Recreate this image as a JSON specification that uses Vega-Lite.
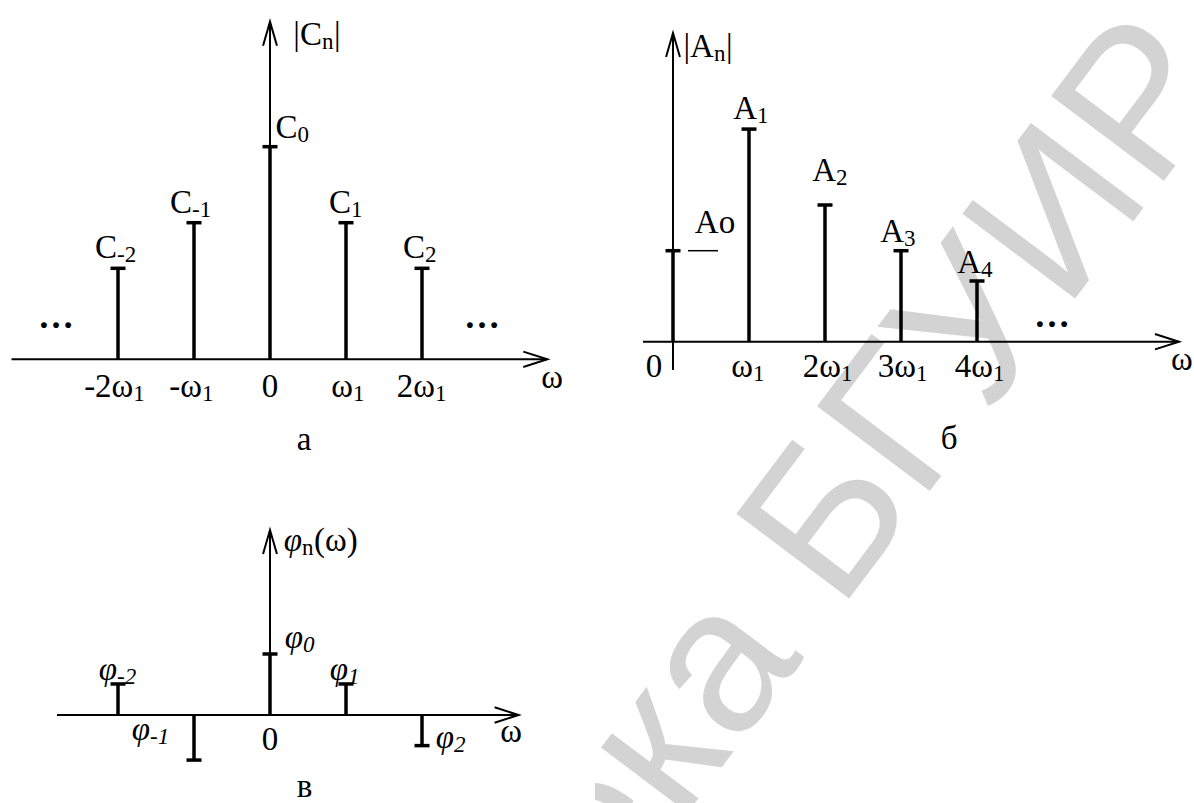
{
  "$schema": "https://vega.github.io/schema/vega-lite/v6.json",
  "padding": 0,
  "background": "white",
  "config": {"view": {"stroke": null}},
  "datasets": {
    "stems_a": [
      {"label": "C-2", "n": -2, "v": 0.428},
      {"label": "C-1", "n": -1, "v": 0.6425},
      {"label": "C0", "n": 0, "v": 1.0},
      {"label": "C1", "n": 1, "v": 0.6425},
      {"label": "C2", "n": 2, "v": 0.428}
    ],
    "axes_a": [
      {"dir": "x", "n": 3.649, "v": 0, "n2": -3.401, "v2": 0},
      {"dir": "y", "n": 0, "v": 1.588, "n2": 0, "v2": 0}
    ],
    "labels_a": [
      {"main": "|C", "sub": "n", "post": "|", "n": 0.684, "v": 1.478},
      {"main": "C", "sub": "0", "post": "", "n": 0.362, "v": 1.04},
      {"main": "C", "sub": "-1", "post": "", "n": -1.026, "v": 0.688},
      {"main": "C", "sub": "-2", "post": "", "n": -2.013, "v": 0.4765},
      {"main": "C", "sub": "1", "post": "", "n": 1.066, "v": 0.688},
      {"main": "C", "sub": "2", "post": "", "n": 2.039, "v": 0.4765},
      {"main": "-2ω", "sub": "1", "post": "", "n": -1.798, "v": -0.176},
      {"main": "-ω", "sub": "1", "post": "", "n": -0.895, "v": -0.176},
      {"main": "ω", "sub": "1", "post": "", "n": 1.092, "v": -0.176},
      {"main": "2ω", "sub": "1", "post": "", "n": 2.171, "v": -0.176}
    ],
    "texts_a": [
      {"text": "0", "n": 0, "v": -0.176},
      {"text": "ω", "n": 3.711, "v": -0.135},
      {"text": "а", "n": 0.447, "v": -0.427}
    ],
    "dots_a": [
      {"text": "…", "n": -2.816, "v": 0.147},
      {"text": "…", "n": 2.789, "v": 0.147}
    ],
    "stems_b": [
      {"label": "A0", "n": 0, "v": 0.428},
      {"label": "A1", "n": 1, "v": 1.0},
      {"label": "A2", "n": 2, "v": 0.643},
      {"label": "A3", "n": 3, "v": 0.428},
      {"label": "A4", "n": 4, "v": 0.2855}
    ],
    "axes_b": [
      {"dir": "x", "n": 6.658, "v": 0, "n2": -0.395, "v2": 0},
      {"dir": "y", "n": 0, "v": 1.452, "n2": 0, "v2": -0.133}
    ],
    "bar_b": [{"n": 0.197, "n2": 0.592, "v": 0.428}],
    "labels_b": [
      {"main": "|A", "sub": "n", "post": "|", "n": 0.539, "v": 1.339},
      {"main": "A", "sub": "1", "post": "", "n": 1.105, "v": 1.047},
      {"main": "A", "sub": "2", "post": "", "n": 2.145, "v": 0.756},
      {"main": "A", "sub": "3", "post": "", "n": 3.04, "v": 0.467},
      {"main": "A", "sub": "4", "post": "", "n": 4.053, "v": 0.321},
      {"main": "ω", "sub": "1", "post": "", "n": 1.053, "v": -0.166},
      {"main": "2ω", "sub": "1", "post": "", "n": 2.21, "v": -0.166},
      {"main": "3ω", "sub": "1", "post": "", "n": 3.197, "v": -0.166},
      {"main": "4ω", "sub": "1", "post": "", "n": 4.211, "v": -0.166}
    ],
    "texts_b": [
      {"text": "Ao", "n": 0.553, "v": 0.511},
      {"text": "0", "n": -0.25, "v": -0.166},
      {"text": "ω", "n": 6.697, "v": -0.133},
      {"text": "б", "n": 3.632, "v": -0.505}
    ],
    "dots_b": [
      {"text": "…", "n": 4.987, "v": 0.068}
    ],
    "watermark": [{"text": "Библиотека БГУИР", "n": 7.408, "v": 1.2074}],
    "stems_c": [
      {"label": "φ-2", "n": -2, "v": 0.146},
      {"label": "φ-1", "n": -1, "v": -0.212},
      {"label": "φ0", "n": 0, "v": 0.287},
      {"label": "φ1", "n": 1, "v": 0.146},
      {"label": "φ2", "n": 2, "v": -0.144}
    ],
    "axes_c": [
      {"dir": "x", "n": 3.271, "v": 0, "n2": -2.803, "v2": 0},
      {"dir": "y", "n": 0, "v": 0.87, "n2": 0, "v2": 0}
    ],
    "title_c": [
      {"main": "φ", "sub": "n", "post": "(ω)", "n": 0.421, "v": 0.771}
    ],
    "labels_c": [
      {"main": "φ", "sub": "0", "n": 0.434, "v": 0.315},
      {"main": "φ", "sub": "-2", "n": -2.013, "v": 0.165},
      {"main": "φ", "sub": "1", "n": 1.026, "v": 0.165},
      {"main": "φ", "sub": "-1", "n": -1.579, "v": -0.118},
      {"main": "φ", "sub": "2", "n": 2.421, "v": -0.155}
    ],
    "texts_c": [
      {"text": "0", "n": 0, "v": -0.165},
      {"text": "ω", "n": 3.171, "v": -0.125},
      {"text": "в", "n": 0.454, "v": -0.386}
    ]
  },
  "spacing": 5,
  "bounds": "full",
  "hconcat": [
    {
      "spacing": 0,
      "bounds": "full",
      "vconcat": [
        {
          "width": 590,
          "height": 470,
          "encoding": {
            "x": {"field": "n", "type": "quantitative", "scale": {"domain": [-3.5526, 4.2105], "nice": false, "zero": false}, "axis": null},
            "y": {"field": "v", "type": "quantitative", "scale": {"domain": [-0.5207, 1.69], "nice": false, "zero": false}, "axis": null}
          },
          "layer": [
            {"data": {"name": "axes_a"}, "mark": {"type": "rule", "color": "black", "strokeWidth": 2}, "encoding": {"x2": {"field": "n2"}, "y2": {"field": "v2"}}},
            {"data": {"name": "axes_a"}, "transform": [{"filter": "datum.dir == 'x'"}], "mark": {"type": "point", "shape": "M-1,-0.32L0,0L-1,0.32", "size": 2304, "filled": false, "color": "black", "strokeWidth": 2, "opacity": 1}},
            {"data": {"name": "axes_a"}, "transform": [{"filter": "datum.dir == 'y'"}], "mark": {"type": "point", "shape": "M-0.29,1L0,0L0.29,1", "size": 2304, "filled": false, "color": "black", "strokeWidth": 2, "opacity": 1}},
            {"data": {"name": "stems_a"}, "mark": {"type": "rule", "color": "black", "strokeWidth": 3.5}, "encoding": {"y2": {"datum": 0}}},
            {"data": {"name": "stems_a"}, "mark": {"type": "tick", "orient": "horizontal", "size": 15, "thickness": 3.5, "color": "black", "opacity": 1}},
            {"data": {"name": "labels_a"}, "mark": {"type": "text", "align": "right", "baseline": "alphabetic", "font": "Liberation Serif", "fontSize": 33, "color": "black"}, "encoding": {"text": {"field": "main"}}},
            {"data": {"name": "labels_a"}, "mark": {"type": "text", "align": "left", "baseline": "alphabetic", "dy": 4, "font": "Liberation Serif", "fontSize": 23, "color": "black"}, "encoding": {"text": {"field": "sub"}}},
            {"data": {"name": "labels_a"}, "mark": {"type": "text", "align": "left", "baseline": "alphabetic", "dx": 12, "font": "Liberation Serif", "fontSize": 33, "color": "black"}, "encoding": {"text": {"field": "post"}}},
            {"data": {"name": "texts_a"}, "mark": {"type": "text", "align": "center", "baseline": "alphabetic", "font": "Liberation Serif", "fontSize": 33, "color": "black"}, "encoding": {"text": {"field": "text"}}},
            {"data": {"name": "dots_a"}, "mark": {"type": "text", "align": "center", "baseline": "alphabetic", "font": "Liberation Serif", "fontSize": 36, "fontWeight": "bold", "color": "black"}, "encoding": {"text": {"field": "text"}}}
          ]
        },
        {
          "width": 590,
          "height": 333,
          "encoding": {
            "x": {"field": "n", "type": "quantitative", "scale": {"domain": [-3.5526, 4.2105], "nice": false, "zero": false}, "axis": null},
            "y": {"field": "v", "type": "quantitative", "scale": {"domain": [-0.4139, 1.1524], "nice": false, "zero": false}, "axis": null}
          },
          "layer": [
            {"data": {"name": "axes_c"}, "mark": {"type": "rule", "color": "black", "strokeWidth": 2}, "encoding": {"x2": {"field": "n2"}, "y2": {"field": "v2"}}},
            {"data": {"name": "axes_c"}, "transform": [{"filter": "datum.dir == 'x'"}], "mark": {"type": "point", "shape": "M-1,-0.32L0,0L-1,0.32", "size": 2304, "filled": false, "color": "black", "strokeWidth": 2, "opacity": 1}},
            {"data": {"name": "axes_c"}, "transform": [{"filter": "datum.dir == 'y'"}], "mark": {"type": "point", "shape": "M-0.29,1L0,0L0.29,1", "size": 2304, "filled": false, "color": "black", "strokeWidth": 2, "opacity": 1}},
            {"data": {"name": "stems_c"}, "mark": {"type": "rule", "color": "black", "strokeWidth": 3.5}, "encoding": {"y2": {"datum": 0}}},
            {"data": {"name": "stems_c"}, "mark": {"type": "tick", "orient": "horizontal", "size": 15, "thickness": 3.5, "color": "black", "opacity": 1}},
            {"data": {"name": "title_c"}, "mark": {"type": "text", "align": "right", "baseline": "alphabetic", "font": "Liberation Serif", "fontStyle": "italic", "fontSize": 33, "color": "black"}, "encoding": {"text": {"field": "main"}}},
            {"data": {"name": "title_c"}, "mark": {"type": "text", "align": "left", "baseline": "alphabetic", "dy": 4, "font": "Liberation Serif", "fontSize": 23, "color": "black"}, "encoding": {"text": {"field": "sub"}}},
            {"data": {"name": "title_c"}, "mark": {"type": "text", "align": "left", "baseline": "alphabetic", "dx": 12, "font": "Liberation Serif", "fontSize": 33, "color": "black"}, "encoding": {"text": {"field": "post"}}},
            {"data": {"name": "labels_c"}, "mark": {"type": "text", "align": "right", "baseline": "alphabetic", "font": "Liberation Serif", "fontStyle": "italic", "fontSize": 33, "color": "black"}, "encoding": {"text": {"field": "main"}}},
            {"data": {"name": "labels_c"}, "mark": {"type": "text", "align": "left", "baseline": "alphabetic", "dy": 4, "font": "Liberation Serif", "fontStyle": "italic", "fontSize": 23, "color": "black"}, "encoding": {"text": {"field": "sub"}}},
            {"data": {"name": "texts_c"}, "mark": {"type": "text", "align": "center", "baseline": "alphabetic", "font": "Liberation Serif", "fontSize": 33, "color": "black"}, "encoding": {"text": {"field": "text"}}}
          ]
        }
      ]
    },
    {
      "width": 599,
      "height": 803,
      "encoding": {
        "x": {"field": "n", "type": "quantitative", "scale": {"domain": [-1.0263, 6.8553], "nice": false, "zero": false}, "axis": null},
        "y": {"field": "v", "type": "quantitative", "scale": {"domain": [-2.1698, 1.6072], "nice": false, "zero": false}, "axis": null}
      },
      "layer": [
        {"data": {"name": "watermark"}, "mark": {"type": "text", "align": "right", "baseline": "alphabetic", "angle": -53, "font": "Liberation Sans", "fontSize": 205, "color": "#d3d3d3", "clip": true}, "encoding": {"text": {"field": "text"}}},
        {"data": {"name": "axes_b"}, "mark": {"type": "rule", "color": "black", "strokeWidth": 2}, "encoding": {"x2": {"field": "n2"}, "y2": {"field": "v2"}}},
        {"data": {"name": "axes_b"}, "transform": [{"filter": "datum.dir == 'x'"}], "mark": {"type": "point", "shape": "M-1,-0.32L0,0L-1,0.32", "size": 2304, "filled": false, "color": "black", "strokeWidth": 2, "opacity": 1}},
        {"data": {"name": "axes_b"}, "transform": [{"filter": "datum.dir == 'y'"}], "mark": {"type": "point", "shape": "M-0.29,1L0,0L0.29,1", "size": 2304, "filled": false, "color": "black", "strokeWidth": 2, "opacity": 1}},
        {"data": {"name": "bar_b"}, "mark": {"type": "rule", "color": "black", "strokeWidth": 1.5}, "encoding": {"x2": {"field": "n2"}}},
        {"data": {"name": "stems_b"}, "mark": {"type": "rule", "color": "black", "strokeWidth": 3.5}, "encoding": {"y2": {"datum": 0}}},
        {"data": {"name": "stems_b"}, "mark": {"type": "tick", "orient": "horizontal", "size": 15, "thickness": 3.5, "color": "black", "opacity": 1}},
        {"data": {"name": "labels_b"}, "mark": {"type": "text", "align": "right", "baseline": "alphabetic", "font": "Liberation Serif", "fontSize": 33, "color": "black"}, "encoding": {"text": {"field": "main"}}},
        {"data": {"name": "labels_b"}, "mark": {"type": "text", "align": "left", "baseline": "alphabetic", "dy": 4, "font": "Liberation Serif", "fontSize": 23, "color": "black"}, "encoding": {"text": {"field": "sub"}}},
        {"data": {"name": "labels_b"}, "mark": {"type": "text", "align": "left", "baseline": "alphabetic", "dx": 12, "font": "Liberation Serif", "fontSize": 33, "color": "black"}, "encoding": {"text": {"field": "post"}}},
        {"data": {"name": "texts_b"}, "mark": {"type": "text", "align": "center", "baseline": "alphabetic", "font": "Liberation Serif", "fontSize": 33, "color": "black"}, "encoding": {"text": {"field": "text"}}},
        {"data": {"name": "dots_b"}, "mark": {"type": "text", "align": "center", "baseline": "alphabetic", "font": "Liberation Serif", "fontSize": 36, "fontWeight": "bold", "color": "black"}, "encoding": {"text": {"field": "text"}}}
      ]
    }
  ]
}
